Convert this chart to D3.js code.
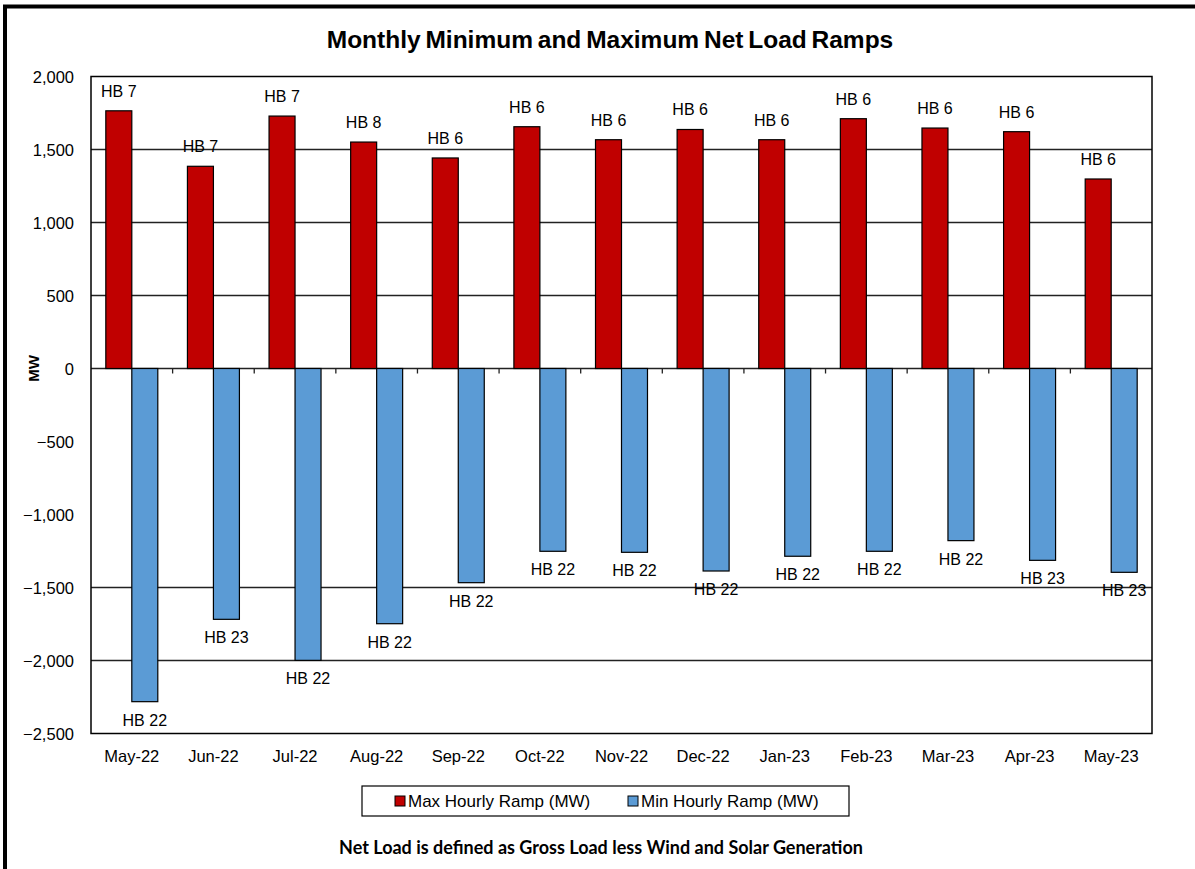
<!DOCTYPE html>
<html>
<head>
<meta charset="utf-8">
<script src="https://cdn.jsdelivr.net/npm/d3@7"></script>
<style>
  body { margin: 0; background: #fff; }
  svg { display: block; font-family: "Liberation Sans", Arial, sans-serif; }
</style>
</head>
<body>
<svg width="1195" height="869"></svg>
<script>
// data
const months = ["May-22", "Jun-22", "Jul-22", "Aug-22", "Sep-22", "Oct-22", "Nov-22",
                "Dec-22", "Jan-23", "Feb-23", "Mar-23", "Apr-23", "May-23"];
const maxRamp = [1765, 1385, 1729, 1551, 1442, 1656, 1567, 1637, 1567, 1711, 1647, 1622, 1298];
const minRamp = [-2282, -1718, -1999, -1748, -1467, -1252, -1259, -1387, -1286, -1252, -1179, -1314, -1396];
const maxHour = ["HB 7", "HB 7", "HB 7", "HB 8", "HB 6", "HB 6", "HB 6", "HB 6", "HB 6", "HB 6", "HB 6", "HB 6", "HB 6"];
const minHour = ["HB 22", "HB 23", "HB 22", "HB 22", "HB 22", "HB 22", "HB 22", "HB 22", "HB 22", "HB 22", "HB 22", "HB 23", "HB 23"];
const yTicks = [2000, 1500, 1000, 500, 0, -500, -1000, -1500, -2000, -2500];
const gridTicks = [1500, 1000, 500, 0, -1500, -2000];
const seriesNames = ["Max Hourly Ramp (MW)", "Min Hourly Ramp (MW)"];
const colors = ["#C00000", "#5B9BD5"];

let svg = d3.select("svg");

// outer frame
svg.append("rect")
    .attr("x", 5).attr("y", 6.5).attr("width", 1200).attr("height", 880)
    .attr("fill", "none").attr("stroke", "#000").attr("stroke-width", 4);

const plot = {left: 91, right: 1152, top: 76.5, bottom: 733.5};

let y = d3.scaleLinear().domain([-2500, 2000]).range([plot.bottom, plot.top]);
let x0 = d3.scaleBand().domain(months).range([plot.left, plot.right]);
let x1 = d3.scaleBand().domain([0, 1]).range([0, x0.bandwidth()]).paddingOuter(0.57);

// title
svg.append("text")
    .attr("x", 610).attr("y", 48)
    .attr("text-anchor", "middle")
    .attr("font-size", 24.5).attr("font-weight", "bold")
    .attr("word-spacing", -2)
    .text("Monthly Minimum and Maximum Net Load Ramps");

// gridlines
svg.append("g")
    .selectAll("line")
    .data(gridTicks)
    .enter()
    .append("line")
    .attr("x1", plot.left).attr("x2", plot.right)
    .attr("y1", d => y(d)).attr("y2", d => y(d))
    .attr("stroke", "#222").attr("stroke-width", 1.3);

// y axis labels
svg.append("g")
    .selectAll("text")
    .data(yTicks)
    .enter()
    .append("text")
    .attr("x", 74).attr("y", d => y(d) + 6)
    .attr("text-anchor", "end")
    .attr("font-size", 16.5)
    .text(d => d3.format(",")(d));

svg.append("text")
    .attr("transform", "translate(39," + y(0) + ") rotate(-90)")
    .attr("text-anchor", "middle")
    .attr("font-size", 15).attr("font-weight", "bold")
    .text("MW");

// bars
let groups = svg.append("g")
    .selectAll("g")
    .data(months)
    .enter()
    .append("g")
    .attr("transform", d => "translate(" + x0(d) + ",0)");

groups.append("rect")
    .attr("x", x1(0)).attr("width", x1.bandwidth())
    .attr("y", (d, i) => y(maxRamp[i]))
    .attr("height", (d, i) => y(0) - y(maxRamp[i]))
    .attr("fill", colors[0]).attr("stroke", "#000").attr("stroke-width", 1.2);

groups.append("rect")
    .attr("x", x1(1)).attr("width", x1.bandwidth())
    .attr("y", y(0))
    .attr("height", (d, i) => y(minRamp[i]) - y(0))
    .attr("fill", colors[1]).attr("stroke", "#000").attr("stroke-width", 1.2);

// hour labels
groups.append("text")
    .attr("x", x1(0) + x1.bandwidth() / 2)
    .attr("y", (d, i) => y(maxRamp[i]) - 14)
    .attr("text-anchor", "middle").attr("font-size", 16)
    .text((d, i) => maxHour[i]);

groups.append("text")
    .attr("x", x1(1) + x1.bandwidth() / 2)
    .attr("y", (d, i) => y(minRamp[i]) + 24)
    .attr("text-anchor", "middle").attr("font-size", 16)
    .text((d, i) => minHour[i]);

// category tick marks on the zero line
svg.append("g")
    .selectAll("line")
    .data(months.slice(1))
    .enter()
    .append("line")
    .attr("x1", d => x0(d)).attr("x2", d => x0(d))
    .attr("y1", y(0)).attr("y2", y(0) + 5)
    .attr("stroke", "#222").attr("stroke-width", 1.3);

// category labels
svg.append("g")
    .selectAll("text")
    .data(months)
    .enter()
    .append("text")
    .attr("x", d => x0(d) + x0.bandwidth() / 2)
    .attr("y", 762)
    .attr("text-anchor", "middle").attr("font-size", 16.5)
    .text(d => d);

// plot border
svg.append("rect")
    .attr("x", plot.left).attr("y", plot.top)
    .attr("width", plot.right - plot.left).attr("height", plot.bottom - plot.top)
    .attr("fill", "none").attr("stroke", "#000").attr("stroke-width", 1.5);

// legend
let legend = svg.append("g");
legend.append("rect")
    .attr("x", 362).attr("y", 786).attr("width", 487).attr("height", 30)
    .attr("fill", "#fff").attr("stroke", "#000").attr("stroke-width", 1.2);

let items = legend.selectAll("g")
    .data(seriesNames)
    .enter()
    .append("g")
    .attr("transform", (d, i) => "translate(" + (i === 0 ? 395 : 628) + ",796)");

items.append("rect")
    .attr("width", 10).attr("height", 10)
    .attr("fill", (d, i) => colors[i]).attr("stroke", "#000").attr("stroke-width", 1);

items.append("text")
    .attr("x", 13).attr("y", 11)
    .attr("font-size", 17)
    .text(d => d);

// footnote
svg.append("text")
    .attr("x", 601).attr("y", 854)
    .attr("text-anchor", "middle")
    .attr("font-family", "Lato, 'Open Sans', sans-serif")
    .attr("font-size", 18).attr("font-weight", "bold")
    .text("Net Load is defined as Gross Load less Wind and Solar Generation");
</script>
</body>
</html>
